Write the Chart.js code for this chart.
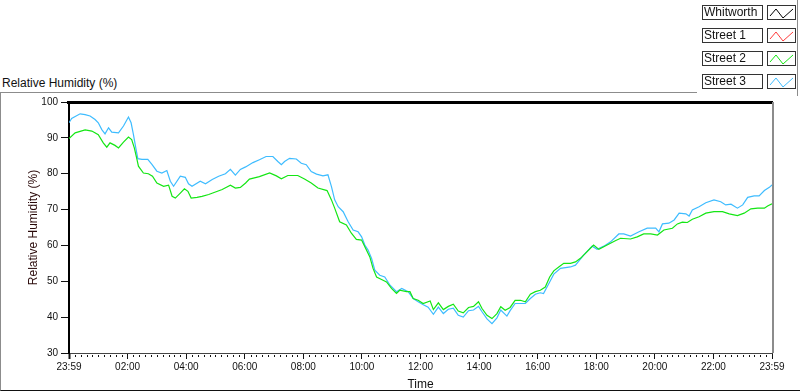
<!DOCTYPE html>
<html>
<head>
<meta charset="utf-8">
<script src="https://cdn.jsdelivr.net/npm/chart.js@4.4.1/dist/chart.umd.min.js"></script>
<style>
  body { margin: 0; background: #fff; font-family: "Liberation Sans", Arial, sans-serif; }
  #wrap { position: relative; width: 800px; height: 392px; overflow: hidden; }
  #chart { position: absolute; left: 0; top: 0; }
  .caption { position: absolute; left: 2px; top: 76px; font-size: 12px; line-height: 14px; color: #111; }
  .frame { position: absolute; left: 0; top: 92px; width: 799px; height: 298px;
           border-left: 1px solid #8c8c8c; border-bottom: 1px solid #111; }
  .frame-top { position: absolute; left: 0; top: 92px; width: 697px; height: 0; border-top: 1px solid #8c8c8c; }
  .legend-panel { position: absolute; left: 697px; top: 0; width: 100px; height: 96px;
                  border-right: 1px solid #8c8c8c; }
  #legend { position: absolute; left: 702px; top: 5px; }
  .item { display: flex; height: 15px; margin-bottom: 8px; }
  .item .name { box-sizing: border-box; width: 61px; height: 15px; border: 1px solid #333;
                font-size: 12px; line-height: 13px; padding-left: 1px; color: #111; white-space: nowrap; }
  .item .icon { box-sizing: border-box; width: 29px; height: 15px; border: 1px solid #333; margin-left: 4px; }
</style>
</head>
<body>
<div id="wrap">
  <div class="frame"></div>
  <div class="frame-top"></div>
  <div class="legend-panel"></div>
  <div class="caption">Relative Humidity (%)</div>
  <canvas id="chart" width="800" height="392"></canvas>
  <div id="legend"></div>
</div>
<script>
// hours since 23:59 of the previous day
const tickLabels = ["23:59", "02:00", "04:00", "06:00", "08:00", "10:00", "12:00",
                    "14:00", "16:00", "18:00", "20:00", "22:00", "23:59"];
const minorPerMajor = 10;

const seriesNames = ["Whitworth", "Street 1", "Street 2", "Street 3"];
const seriesColors = ["#000000", "#ff3b3b", "#14e614", "#3ebcff"];

// no readings shown for these two
const whitworthTime = [];
const whitworthRH = [];
const street1Time = [];
const street1RH = [];

const street2Time = [0, 0.21, 0.55, 0.78, 1.00, 1.17, 1.29, 1.40, 1.57, 1.69,
  1.86, 2.03, 2.14, 2.23, 2.32, 2.37, 2.54, 2.71, 2.85, 3.00,
  3.23, 3.40, 3.52, 3.63, 3.80, 3.94, 4.06, 4.17, 4.37, 4.54,
  4.77, 5.00, 5.23, 5.51, 5.68, 5.85, 6.03, 6.16, 6.50, 6.85,
  7.08, 7.25, 7.47, 7.81, 8.04, 8.27, 8.50, 8.81, 8.96, 9.07,
  9.24, 9.47, 9.64, 9.81, 9.99, 10.10, 10.27, 10.38, 10.50, 10.67,
  10.84, 11.01, 11.18, 11.29, 11.52, 11.64, 11.75, 11.92, 12.09, 12.33,
  12.44, 12.61, 12.78, 12.95, 13.12, 13.29, 13.46, 13.64, 13.81, 13.98,
  14.10, 14.27, 14.44, 14.61, 14.74, 14.89, 15.06, 15.23, 15.41, 15.58,
  15.75, 15.92, 16.09, 16.26, 16.41, 16.55, 16.72, 16.89, 17.12, 17.29,
  17.46, 17.63, 17.80, 17.91, 18.09, 18.37, 18.65, 18.83, 19.17, 19.40,
  19.62, 19.86, 20.09, 20.31, 20.60, 20.77, 20.94, 21.11, 21.28, 21.51,
  21.74, 22.02, 22.31, 22.54, 22.82, 23.05, 23.28, 23.51, 23.74, 23.85,
  24.00];
const street2RH = [89.8, 91.4, 92.2, 91.9, 90.9, 88.6, 87.4, 88.6, 87.9, 87.2,
  88.8, 90.2, 89.5, 87.2, 84.0, 82.1, 80.2, 80.0, 79.3, 77.4,
  76.5, 76.8, 73.7, 73.2, 74.6, 75.8, 75.1, 73.2, 73.4, 73.7,
  74.2, 74.9, 75.6, 76.8, 76.0, 76.2, 77.4, 78.5, 79.2, 80.2,
  79.4, 78.6, 79.5, 79.5, 78.5, 77.4, 76.0, 75.3, 72.7, 70.4,
  66.6, 65.7, 63.4, 61.7, 61.5, 59.6, 56.8, 53.6, 51.2, 50.5,
  49.8, 48.0, 46.6, 47.5, 47.1, 47.1, 45.2, 44.7, 43.8, 44.5,
  42.1, 44.0, 42.1, 43.0, 43.6, 41.7, 41.2, 42.7, 43.0, 44.3,
  42.4, 40.5, 39.6, 41.0, 42.9, 41.9, 42.7, 44.7, 44.7, 44.3,
  46.4, 47.1, 47.5, 48.4, 51.2, 52.9, 54.0, 55.0, 55.0, 55.4,
  56.4, 57.8, 59.2, 60.1, 58.9, 60.1, 61.3, 62.0, 61.8, 62.4,
  63.2, 63.2, 62.9, 64.3, 64.8, 66.0, 66.5, 66.4, 67.3, 68.0,
  69.0, 69.4, 69.4, 68.8, 68.3, 69.0, 70.2, 70.4, 70.4, 71.0,
  71.6];

const street3Time = [0, 0.09, 0.38, 0.55, 0.72, 0.89, 1.00, 1.12, 1.23, 1.35,
  1.46, 1.69, 1.86, 2.03, 2.12, 2.20, 2.28, 2.35, 2.49, 2.69,
  2.83, 3.00, 3.17, 3.34, 3.46, 3.57, 3.80, 3.97, 4.08, 4.20,
  4.48, 4.66, 4.89, 5.11, 5.34, 5.51, 5.68, 5.85, 6.03, 6.28,
  6.50, 6.73, 6.96, 7.13, 7.25, 7.36, 7.53, 7.76, 7.93, 8.10,
  8.27, 8.45, 8.67, 8.84, 8.96, 9.07, 9.19, 9.36, 9.53, 9.70,
  9.87, 9.99, 10.10, 10.21, 10.33, 10.44, 10.61, 10.78, 10.96, 11.18,
  11.36, 11.58, 11.75, 11.92, 12.08, 12.26, 12.44, 12.61, 12.78, 12.95,
  13.12, 13.29, 13.46, 13.64, 13.81, 13.98, 14.10, 14.27, 14.44, 14.61,
  14.74, 14.95, 15.06, 15.23, 15.41, 15.58, 15.75, 15.92, 16.09, 16.20,
  16.41, 16.55, 16.78, 17.12, 17.29, 17.57, 17.86, 18.03, 18.26, 18.49,
  18.77, 18.94, 19.17, 19.46, 19.74, 20.03, 20.14, 20.26, 20.48, 20.66,
  20.83, 21.06, 21.17, 21.28, 21.51, 21.74, 22.02, 22.25, 22.42, 22.60,
  22.82, 23.00, 23.17, 23.39, 23.56, 23.74, 23.91, 24.00];
const street3RH = [94.2, 95.4, 96.7, 96.5, 96.1, 95.1, 94.2, 92.3, 91.1, 92.8,
  91.6, 91.4, 93.3, 95.8, 94.2, 90.9, 87.2, 84.2, 84.0, 84.0,
  82.6, 80.7, 80.2, 80.9, 77.9, 76.5, 79.3, 79.0, 77.2, 76.5,
  77.9, 77.2, 78.4, 79.3, 80.0, 81.2, 79.6, 81.2, 81.9, 83.1,
  83.9, 84.8, 84.8, 83.4, 82.5, 83.4, 84.3, 84.1, 82.9, 82.5,
  80.6, 79.9, 79.4, 79.7, 76.4, 72.7, 70.8, 69.4, 66.6, 64.3,
  63.8, 62.4, 60.1, 58.7, 56.4, 53.1, 51.7, 51.2, 48.9, 47.1,
  48.0, 47.1, 45.2, 44.3, 43.5, 42.8, 40.8, 42.8, 41.0, 42.2,
  42.5, 40.5, 40.0, 41.8, 42.0, 43.0, 41.5, 39.5, 38.2, 39.8,
  42.0, 40.3, 41.8, 43.8, 43.8, 43.8, 45.2, 46.4, 46.8, 46.6,
  49.8, 52.0, 53.6, 54.0, 54.5, 57.3, 59.8, 58.9, 59.8, 61.0,
  63.2, 63.2, 62.6, 63.8, 64.8, 64.8, 63.8, 66.0, 66.2, 67.1,
  69.0, 68.8, 68.2, 69.9, 70.8, 71.9, 72.7, 72.2, 71.3, 71.5,
  70.4, 71.3, 73.4, 73.8, 73.8, 75.3, 76.2, 76.9];

const seriesTimes = [whitworthTime, street1Time, street2Time, street3Time];
const seriesValues = [whitworthRH, street1RH, street2RH, street3RH];

function toPoints(times, values) {
  return times.map((t, i) => ({ x: t, y: values[i] }));
}

const datasets = seriesNames.map((name, i) => ({
  label: name,
  data: toPoints(seriesTimes[i], seriesValues[i]),
  borderColor: seriesColors[i],
  backgroundColor: seriesColors[i],
  borderWidth: 1.2,
  pointRadius: 0,
  tension: 0,
  fill: false,
}));

// thick top edge, grey right edge, short minor ticks under the time axis
const framePlugin = {
  id: "frame",
  afterDraw(chart) {
    const { ctx, chartArea } = chart;
    const xScale = chart.scales.x;
    ctx.save();
    ctx.strokeStyle = "#000";
    ctx.lineWidth = 3;
    ctx.beginPath();
    ctx.moveTo(chartArea.left - 2, chartArea.top + 0.5);
    ctx.lineTo(chartArea.right + 1, chartArea.top + 0.5);
    ctx.stroke();
    ctx.strokeStyle = "#8c8c8c";
    ctx.lineWidth = 2;
    ctx.beginPath();
    ctx.moveTo(chartArea.right + 1, chartArea.top);
    ctx.lineTo(chartArea.right + 1, chartArea.bottom);
    ctx.stroke();
    ctx.fillStyle = "#111";
    xScale.ticks.forEach((tick, i) => {
      if (i % minorPerMajor === 0) return;
      const px = Math.round(xScale.getPixelForValue(tick.value));
      ctx.fillRect(px, chartArea.bottom + 2, 1, 2);
    });
    ctx.restore();
  },
};

Chart.defaults.font.family = "'Liberation Sans', Arial, sans-serif";
Chart.defaults.color = "#111";

const chart = new Chart(document.getElementById("chart"), {
  type: "line",
  data: { datasets: datasets },
  plugins: [framePlugin],
  options: {
    responsive: false,
    animation: false,
    layout: { padding: { top: 102, right: 28, left: 0, bottom: 0 } },
    plugins: {
      legend: { display: false },
      tooltip: { enabled: false },
    },
    scales: {
      x: {
        type: "linear",
        min: 0,
        max: 24,
        afterFit: (scale) => { scale.height = 39; },
        afterBuildTicks: (scale) => {
          const n = (tickLabels.length - 1) * minorPerMajor;
          const ticks = [];
          for (let i = 0; i <= n; i++) ticks.push({ value: (24 * i) / n });
          scale.ticks = ticks;
        },
        ticks: {
          autoSkip: false,
          maxRotation: 0,
          padding: 2,
          font: { size: 10 },
          color: "#111",
          callback: (value, index) => (index % minorPerMajor === 0 ? tickLabels[index / minorPerMajor] : ""),
        },
        grid: {
          drawOnChartArea: false,
          tickLength: 6,
          tickColor: (ctx) => (ctx.index % minorPerMajor === 0 ? "#111" : "rgba(0,0,0,0)"),
          tickWidth: (ctx) => (ctx.index === 0 ? 2 : 1),
        },
        border: { display: true, color: "#444", width: 1 },
        title: {
          display: true,
          text: "Time",
          font: { size: 12 },
          color: "#111",
          padding: { top: 0, bottom: 0 },
        },
      },
      y: {
        min: 30,
        max: 100,
        afterFit: (scale) => { scale.width = 69; },
        ticks: {
          stepSize: 10,
          padding: 3,
          font: { size: 10 },
          color: "#111",
        },
        grid: {
          drawOnChartArea: false,
          tickLength: 8,
          tickColor: "#111",
        },
        border: { display: true, color: "#000", width: 2 },
        title: {
          display: true,
          text: "Relative Humidity (%)",
          font: { size: 12 },
          color: "#2a0a0a",
          padding: { top: 26, bottom: 0 },
        },
      },
    },
  },
});

// legend boxes in the top right corner
const legendEl = document.getElementById("legend");
chart.data.datasets.forEach((ds) => {
  const row = document.createElement("div");
  row.className = "item";
  const name = document.createElement("div");
  name.className = "name";
  name.textContent = ds.label;
  const icon = document.createElement("div");
  icon.className = "icon";
  icon.innerHTML = '<svg width="27" height="13"><polyline points="2,9 8,2 15,11 25,2" fill="none" stroke="' +
    ds.borderColor + '" stroke-width="1"/></svg>';
  row.append(name, icon);
  legendEl.append(row);
});
</script>
</body>
</html>
